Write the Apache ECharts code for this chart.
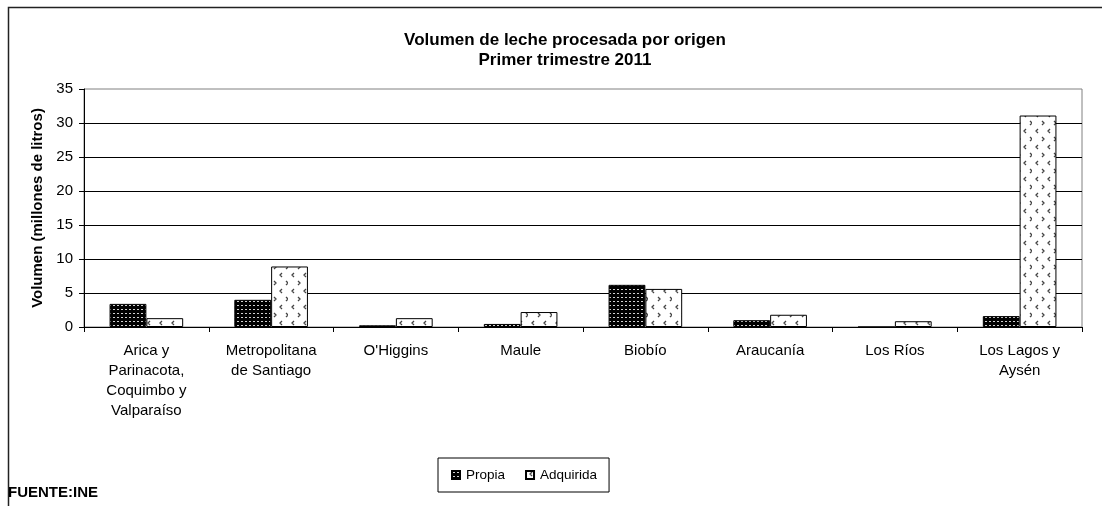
<!DOCTYPE html>
<html>
<head>
<meta charset="utf-8">
<script src="https://cdn.jsdelivr.net/npm/echarts@6/dist/echarts.min.js"></script>
<style>
  html, body { margin: 0; padding: 0; background: #fff; }
  #chart { width: 1102px; height: 506px; }
</style>
</head>
<body>
<div id="chart"></div>
<script>
// datos
var regiones = [
  'Arica y\nParinacota,\nCoquimbo y\nValparaíso',
  'Metropolitana\nde Santiago',
  "O'Higgins",
  'Maule',
  'Biobío',
  'Araucanía',
  'Los Ríos',
  'Los Lagos y\nAysén'
]
var propia = [3.4, 4.0, 0.25, 0.45, 6.2, 1.0, 0, 1.6]
var adquirida = [1.3, 8.9, 1.3, 2.2, 5.6, 1.8, 0.85, 31.1]
var yTicks = [0, 5, 10, 15, 20, 25, 30, 35]

// tramas tipo excel
function patronPropia() {
  var c = document.createElement('canvas')
  c.width = 4; c.height = 4
  var ctx = c.getContext('2d')
  ctx.fillStyle = '#000'
  ctx.fillRect(0, 0, 4, 4)
  ctx.fillStyle = '#d0d0d0'
  ctx.fillRect(1, 1, 2, 1)
  return c
}
function patronAdquirida() {
  var c = document.createElement('canvas')
  c.width = 24; c.height = 16
  var ctx = c.getContext('2d')
  ctx.fillStyle = '#fff'
  ctx.fillRect(0, 0, 24, 16)
  ctx.strokeStyle = '#444'
  ctx.lineWidth = 1.3
  ctx.beginPath()
  // '<'
  ctx.moveTo(6, 1); ctx.lineTo(4, 3); ctx.lineTo(6, 5)
  ctx.moveTo(18, 1); ctx.lineTo(16, 3); ctx.lineTo(18, 5)
  // '>'
  ctx.moveTo(10, 9); ctx.lineTo(12, 11); ctx.lineTo(10, 13)
  ctx.moveTo(22, 9); ctx.lineTo(24, 11); ctx.lineTo(22, 13)
  ctx.stroke()
  return c
}

var chart = echarts.init(document.getElementById('chart'))
var fuente = 'Liberation Sans, Arial, sans-serif'

chart.setOption({
  animation: false,
  textStyle: { fontFamily: fuente },
  title: {
    text: 'Volumen de leche procesada por origen\nPrimer trimestre 2011',
    left: 560,
    textAlign: 'center',
    top: 25,
    textStyle: { fontSize: 17, fontWeight: 'bold', color: '#000', lineHeight: 20, fontFamily: fuente }
  },
  graphic: [
    { type: 'rect', shape: { x: 8.5, y: 7.5, width: 1200, height: 600 }, style: { fill: null, stroke: '#222', lineWidth: 1.5 }, z: -1 },
    { type: 'text', left: 8, top: 485, style: { text: 'FUENTE:INE', font: 'bold 15px ' + fuente, fill: '#000' } }
  ],
  legend: {
    left: 438,
    top: 458,
    padding: [10, 12, 10, 13],
    borderColor: '#000',
    borderWidth: 1,
    itemWidth: 8,
    itemHeight: 8,
    itemGap: 20,
    icon: 'rect',
    textStyle: { fontSize: 13.5, color: '#000', padding: [0, 0, 0, 1] },
    data: ['Propia', 'Adquirida']
  },
  grid: {
    left: 84,
    right: 20,
    top: 89,
    bottom: 179,
    show: true,
    borderColor: '#808080',
    borderWidth: 1,
    containLabel: false
  },
  xAxis: {
    type: 'category',
    data: regiones,
    axisLine: { lineStyle: { color: '#000' } },
    axisTick: { show: true, alignWithLabel: false, length: 5, lineStyle: { color: '#000' } },
    axisLabel: { color: '#000', fontSize: 15, lineHeight: 20, margin: 14, interval: 0 }
  },
  yAxis: {
    type: 'value',
    min: 0,
    max: 35,
    interval: 5,
    name: 'Volumen (millones de litros)',
    nameLocation: 'middle',
    nameGap: 36,
    nameTextStyle: { fontSize: 15, fontWeight: 'bold', color: '#000' },
    axisLine: { show: true, lineStyle: { color: '#000' } },
    axisTick: { show: true, length: 5, lineStyle: { color: '#000' } },
    axisLabel: {
      color: '#000', fontSize: 15, margin: 11,
      formatter: function (v) { return yTicks.indexOf(v) >= 0 ? String(v) : '' }
    },
    splitLine: { showMaxLine: false, lineStyle: { color: '#000', width: 1 } }
  },
  series: [
    {
      name: 'Propia',
      type: 'bar',
      data: propia,
      barGap: '0%',
      barCategoryGap: '41%',
      itemStyle: {
        color: { image: patronPropia(), repeat: 'repeat' },
        borderColor: '#000',
        borderWidth: 1
      }
    },
    {
      name: 'Adquirida',
      type: 'bar',
      data: adquirida,
      itemStyle: {
        color: { image: patronAdquirida(), repeat: 'repeat' },
        borderColor: '#000',
        borderWidth: 1
      }
    }
  ]
})
</script>
</body>
</html>
